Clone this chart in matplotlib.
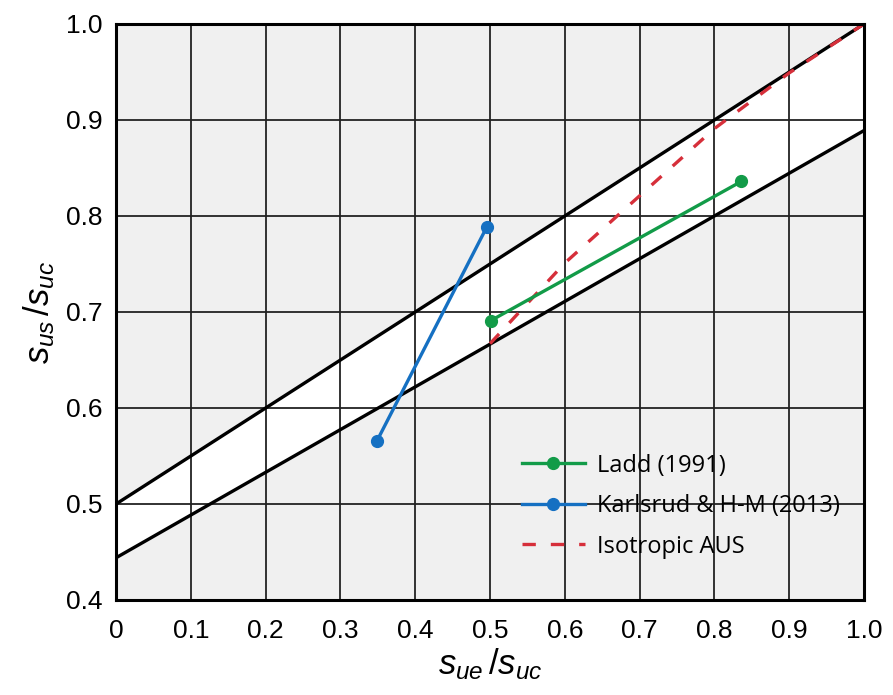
import numpy as np
import matplotlib.pyplot as plt

# bounding lines of the band
band_x = [0.0, 1.0]
band_upper = [0.5, 1.0]
band_lower = [0.444, 0.889]

# Ladd (1991)
ladd_x = [0.501, 0.836]
ladd_y = [0.691, 0.836]

# Karlsrud & H-M (2013)
karl_x = [0.349, 0.496]
karl_y = [0.566, 0.789]

# Isotropic AUS
iso_x = [0.5, 0.6, 0.7, 0.8, 0.9, 1.0]
iso_y = [0.667, 0.751, 0.821, 0.891, 0.949, 1.0]

xticks = [0, 0.1, 0.2, 0.3, 0.4, 0.5, 0.6, 0.7, 0.8, 0.9, 1.0]
xtick_labels = ["0", "0.1", "0.2", "0.3", "0.4", "0.5", "0.6", "0.7", "0.8", "0.9", "1.0"]
yticks = [0.4, 0.5, 0.6, 0.7, 0.8, 0.9, 1.0]
ytick_labels = ["0.4", "0.5", "0.6", "0.7", "0.8", "0.9", "1.0"]

plt.rcParams['font.family'] = ['Liberation Sans', 'DejaVu Sans']
plt.rcParams['mathtext.fontset'] = 'custom'
plt.rcParams['mathtext.it'] = 'Liberation Sans:italic'
plt.rcParams['mathtext.rm'] = 'Liberation Sans'

fig = plt.figure(figsize=(8.93, 6.95), dpi=100)
ax = fig.add_axes([0.13, 0.1367, 0.8375, 0.8288])
ax.set_facecolor('#f0f0f0')

ax.fill_between(band_x, band_lower, band_upper, color='white', zorder=1)
ax.set_xticks(xticks)
ax.set_yticks(yticks)
ax.grid(True, color='#222222', linewidth=1.3, zorder=2)
ax.set_axisbelow(False)

ax.plot(band_x, band_upper, color='black', linewidth=2.4, zorder=3)
ax.plot(band_x, band_lower, color='black', linewidth=2.4, zorder=3)

ax.plot(iso_x, iso_y, color='#d62f3a', linewidth=2.4, dashes=(4, 4.5),
        label='Isotropic AUS', zorder=4)
ax.plot(ladd_x, ladd_y, color='#129b48', linewidth=2.4, marker='o', markersize=8.5,
        label='Ladd (1991)', zorder=5)
ax.plot(karl_x, karl_y, color='#1570c2', linewidth=2.4, marker='o', markersize=8.5,
        label='Karlsrud & H-M (2013)', zorder=5)

ax.set_xlim(0, 1.0)
ax.set_ylim(0.4, 1.0)
ax.set_xticklabels(xtick_labels, fontsize=19)
ax.set_yticklabels(ytick_labels, fontsize=19)
ax.tick_params(length=0)
ax.tick_params(axis='x', pad=14)
ax.tick_params(axis='y', pad=10)
for s in ax.spines.values():
    s.set_linewidth(2.2)
    s.set_zorder(6)

ax.set_xlabel(r'$s_{ue}\,/s_{uc}$', fontsize=25, labelpad=2)
ax.set_ylabel(r'$s_{us}\,/s_{uc}$', fontsize=25, labelpad=6)

h, l = ax.get_legend_handles_labels()
order = [1, 2, 0]
leg = ax.legend([h[i] for i in order], [l[i] for i in order],
                loc='upper left', bbox_to_anchor=(0.543, 0.254), frameon=False,
                prop={'family': 'Open Sans', 'size': 17}, handlelength=2.65,
                labelspacing=0.7, handletextpad=0.5, borderpad=0,
                borderaxespad=0)

fig.savefig('out.png', dpi=100)
